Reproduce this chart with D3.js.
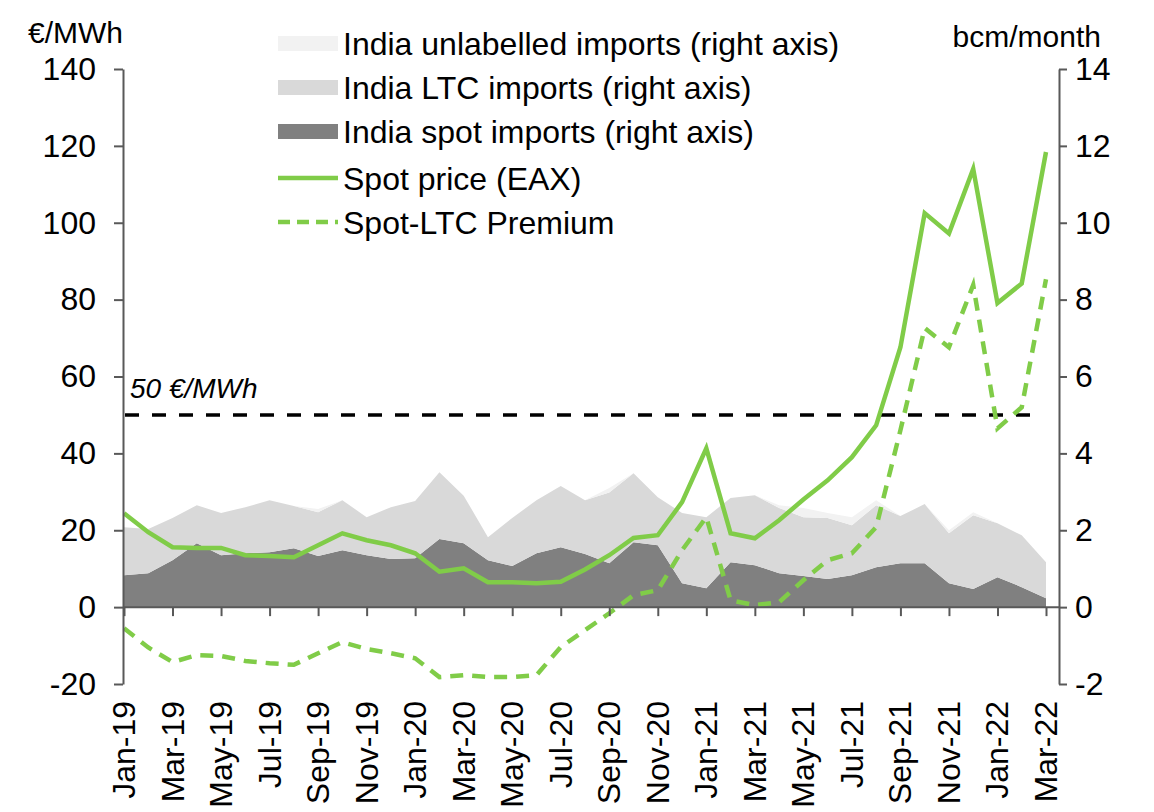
<!DOCTYPE html>
<html>
<head>
<meta charset="utf-8">
<script src="https://cdn.jsdelivr.net/npm/d3@7"></script>
<style>
  html, body { margin: 0; padding: 0; background: #fff; }
  svg { display: block; font-family: "Liberation Sans", Arial, sans-serif; }
</style>
</head>
<body>
<svg id="chart" width="1154" height="812"></svg>
<script>
const months = ["Jan-19","Feb-19","Mar-19","Apr-19","May-19","Jun-19","Jul-19","Aug-19","Sep-19","Oct-19","Nov-19","Dec-19",
  "Jan-20","Feb-20","Mar-20","Apr-20","May-20","Jun-20","Jul-20","Aug-20","Sep-20","Oct-20","Nov-20","Dec-20",
  "Jan-21","Feb-21","Mar-21","Apr-21","May-21","Jun-21","Jul-21","Aug-21","Sep-21","Oct-21","Nov-21","Dec-21",
  "Jan-22","Feb-22","Mar-22"];

// €/MWh (left axis)
const spotPrice = [24.4,19.5,15.6,15.4,15.4,13.5,13.3,13.0,16.1,19.2,17.4,16.1,
  14.0,9.2,10.1,6.5,6.5,6.2,6.6,9.8,13.5,18.0,18.7,27.3,
  41.3,19.2,17.9,22.6,28.0,33.0,39.0,47.3,67.6,102.5,97.2,114.0,
  79.1,84.2,118.4];
const premium = [-5.5,-10.5,-14.3,-12.5,-12.7,-14.0,-14.6,-15.0,-12.0,-9.1,-10.9,-12.0,
  -13.3,-18.2,-17.7,-18.2,-18.2,-17.7,-10.4,-6.0,-1.6,3.1,4.4,14.8,
  23.4,1.8,0.5,1.3,7.0,12.2,14.0,20.8,46.0,72.6,67.6,83.8,
  46.5,52.0,85.3];

// bcm/month (right axis)
const spotImports = [0.83,0.88,1.22,1.66,1.35,1.40,1.43,1.53,1.33,1.48,1.35,1.25,
  1.27,1.77,1.66,1.22,1.07,1.40,1.56,1.38,1.14,1.69,1.61,0.62,
  0.49,1.17,1.09,0.88,0.81,0.73,0.83,1.04,1.14,1.14,0.62,0.47,
  0.78,0.52,0.23];
const ltcImports = [1.25,1.15,1.10,0.99,1.10,1.20,1.35,1.10,1.14,1.30,0.99,1.35,
  1.49,1.74,1.24,0.60,1.25,1.38,1.59,1.40,1.84,1.79,1.25,1.83,
  1.85,1.67,1.82,1.70,1.53,1.59,1.30,1.61,1.23,1.54,1.30,1.92,
  1.40,1.35,0.94];
const unlabelledImports = [0,0,0,0,0,0,0,0,0.08,0,0,0,
  0,0,0,0,0,0,0,0,0.12,0,0,0,
  0,0,0,0.07,0.24,0.13,0.21,0.13,0,0,0.08,0.08,
  0,0,0];

const leftTicks = [-20,0,20,40,60,80,100,120,140];
const rightTicks = [-2,0,2,4,6,8,10,12,14];
const refLevel = 50;
const refLabel = "50 €/MWh";
const legendItems = [
  {name: "India unlabelled imports (right axis)", type: "area", key: "unl"},
  {name: "India LTC imports (right axis)", type: "area", key: "ltc"},
  {name: "India spot imports (right axis)", type: "area", key: "spot"},
  {name: "Spot price (EAX)", type: "line"},
  {name: "Spot-LTC Premium", type: "dash"}
];

const colors = {spot: "#808080", ltc: "#d9d9d9", unl: "#f2f2f2", green: "#80cc48", axis: "#595959"};
const FS = 32;

const svg = d3.select("#chart");
const axisLeftX = 123, axisRightX = 1059;
const yTop = 69, yBot = 684;

const x = d3.scalePoint().domain(months).range([124, 1046]);
const yL = d3.scaleLinear().domain([-20, 140]).range([yBot, yTop]);
const yR = d3.scaleLinear().domain([-2, 14]).range([yBot, yTop]);

// stacked areas
const rows = months.map((m, i) => ({m, spot: spotImports[i], ltc: ltcImports[i], unl: unlabelledImports[i]}));
const stack = d3.stack().keys(["spot", "ltc", "unl"]);
const series = stack(rows);
const area = d3.area()
  .x(d => x(d.data.m))
  .y0(d => yR(d[0]))
  .y1(d => yR(d[1]));
svg.append("g").selectAll("path").data(series).join("path")
  .attr("d", area)
  .attr("fill", d => colors[d.key]);

// reference line
svg.append("line")
  .attr("x1", axisLeftX + 2).attr("x2", 1042)
  .attr("y1", yL(refLevel)).attr("y2", yL(refLevel))
  .attr("stroke", "#000").attr("stroke-width", 3.5)
  .attr("stroke-dasharray", "14,13");
svg.append("text")
  .attr("x", 130).attr("y", yL(refLevel) - 17)
  .attr("font-size", 28).attr("font-style", "italic").attr("fill", "#000")
  .text(refLabel);

// lines
const line = d3.line().x((d, i) => x(months[i])).y(d => yL(d));
svg.append("path").datum(premium)
  .attr("d", line).attr("fill", "none")
  .attr("stroke", colors.green).attr("stroke-width", 4.5)
  .attr("stroke-dasharray", "13,9");
svg.append("path").datum(spotPrice)
  .attr("d", line).attr("fill", "none")
  .attr("stroke", colors.green).attr("stroke-width", 4.5)
  .attr("stroke-linejoin", "miter");

// axes
const fmt = d => String(d);
const gL = svg.append("g").attr("transform", `translate(${axisLeftX},0)`)
  .call(d3.axisLeft(yL).tickValues(leftTicks).tickFormat(fmt).tickSize(9).tickPadding(18).tickSizeOuter(0));
const gR = svg.append("g").attr("transform", `translate(${axisRightX},0)`)
  .call(d3.axisRight(yR).tickValues(rightTicks).tickFormat(fmt).tickSize(8).tickPadding(8).tickSizeOuter(0));
const xTicks = months.filter((m, i) => i % 2 === 0);
const gX = svg.append("g").attr("transform", `translate(0,${yL(0)})`)
  .call(d3.axisBottom(x).tickValues(xTicks).tickSize(9).tickSizeOuter(0).tickFormat(""));
gX.select(".domain").attr("d", `M${axisLeftX},0H${axisRightX}`);

[gL, gR, gX].forEach(g => {
  g.select(".domain").attr("stroke", colors.axis).attr("stroke-width", 2);
  g.selectAll(".tick line").attr("stroke", colors.axis).attr("stroke-width", 2);
  g.selectAll("text").attr("font-size", FS).attr("fill", "#000")
    .attr("font-family", "Liberation Sans, Arial, sans-serif");
});

// x labels rotated
svg.append("g").selectAll("text").data(xTicks).join("text")
  .attr("transform", d => `translate(${x(d) + 11},${yBot + 17}) rotate(-90)`)
  .attr("text-anchor", "end")
  .attr("font-size", FS).attr("fill", "#000")
  .text(d => d);

// axis unit titles
svg.append("text").attr("x", 28).attr("y", 43).attr("font-size", 30).text("€/MWh");
svg.append("text").attr("x", 1101).attr("y", 47).attr("text-anchor", "end").attr("font-size", 30).text("bcm/month");

// legend
const lg = svg.append("g");
const rowY = [43, 87, 131, 178, 222];
legendItems.forEach((it, i) => {
  const cy = rowY[i];
  if (it.type === "area") {
    lg.append("rect").attr("x", 278).attr("y", cy - 7).attr("width", 60).attr("height", 15)
      .attr("fill", colors[it.key]);
  } else {
    lg.append("line").attr("x1", 278).attr("x2", 338).attr("y1", cy).attr("y2", cy)
      .attr("stroke", colors.green).attr("stroke-width", 4.5)
      .attr("stroke-dasharray", it.type === "dash" ? "12,7" : null);
  }
  lg.append("text").attr("x", 343).attr("y", cy + 11.5).attr("font-size", FS).attr("fill", "#000").text(it.name);
});
</script>
</body>
</html>
